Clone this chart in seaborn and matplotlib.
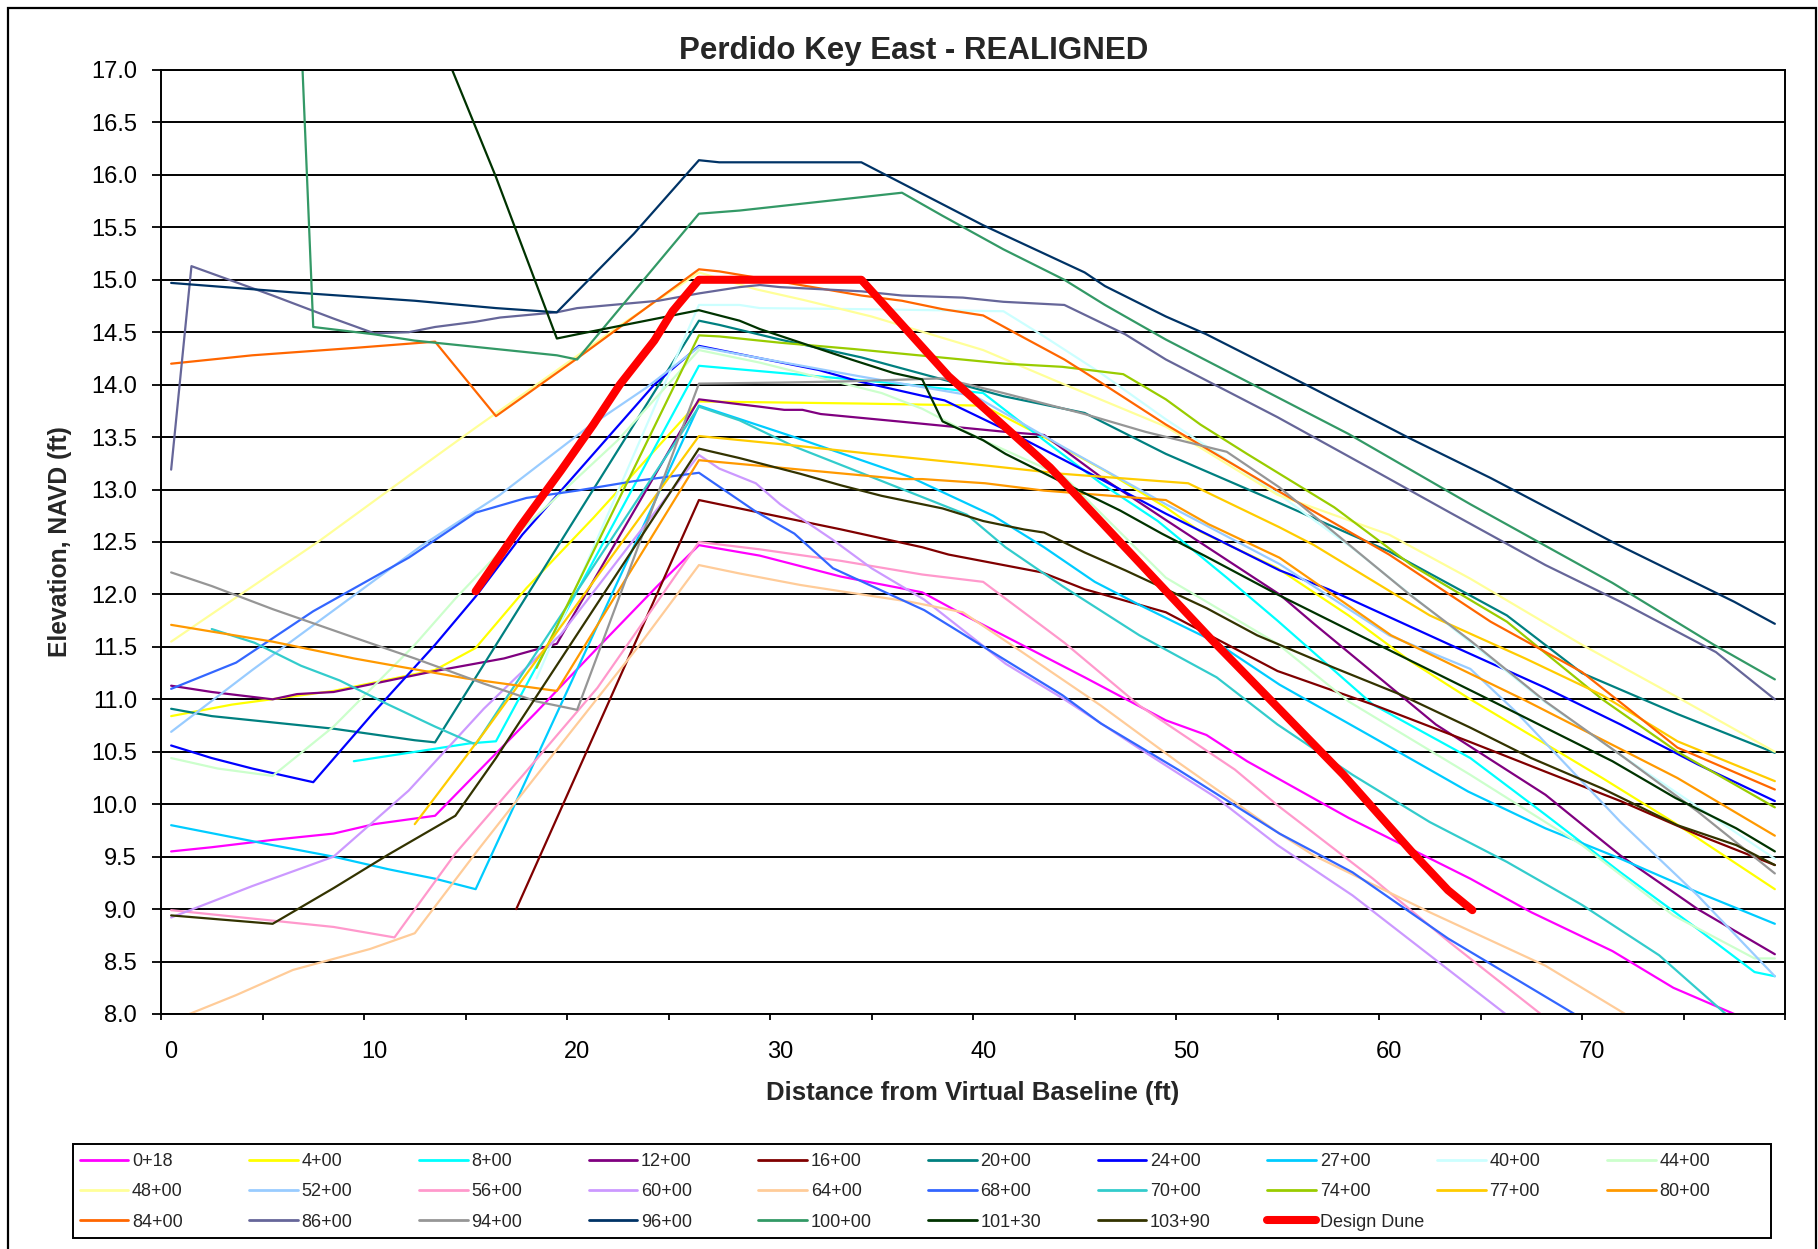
import matplotlib
matplotlib.use("Agg")
import matplotlib.pyplot as plt
from matplotlib.lines import Line2D
from matplotlib.patches import Rectangle
from matplotlib.ticker import MultipleLocator, FormatStrFormatter
import seaborn as sns
import pandas as pd

# ---------------- data ----------------
stations = ["0+18", "4+00", "8+00", "12+00", "16+00", "20+00", "24+00", "27+00",
            "40+00", "44+00", "48+00", "52+00", "56+00", "60+00", "64+00", "68+00",
            "70+00", "74+00", "77+00", "80+00", "84+00", "86+00", "94+00", "96+00",
            "100+00", "101+30", "103+90"]

colors = ["#FF00FF", "#FFFF00", "#00FFFF", "#800080", "#800000", "#008080", "#0000FF", "#00CCFF",
          "#CCFFFF", "#CCFFCC", "#FFFF99", "#99CCFF", "#FF99CC", "#CC99FF", "#FFCC99", "#3366FF",
          "#33CCCC", "#99CC00", "#FFCC00", "#FF9900", "#FF6600", "#666699", "#969696", "#003366",
          "#339966", "#003300", "#333300"]

x_0_18 = [0, 2, 5, 8, 10, 13, 18, 21, 24, 26, 29, 33, 37, 39, 45, 49, 51, 53, 58, 64, 67, 71, 74, 77, 78]
y_0_18 = [9.55, 9.59, 9.66, 9.72, 9.81, 9.89, 10.88, 11.49, 12.09, 12.47, 12.37, 12.17, 12.02, 11.81,
          11.21, 10.80, 10.66, 10.41, 9.87, 9.29, 8.97, 8.60, 8.25, 8.00, 7.97]

x_4_00 = [0, 3, 8, 13, 15, 17.5, 20.8, 23.8, 26, 34, 40, 43, 46, 49, 50.7, 54.5, 58, 61, 64, 68, 70.5, 74, 79]
y_4_00 = [10.84, 10.95, 11.08, 11.28, 11.49, 12.06, 12.73, 13.37, 13.84, 13.82, 13.80, 13.50, 13.18,
          12.83, 12.60, 12.25, 11.80, 11.37, 11.00, 10.54, 10.25, 9.83, 9.19]

x_8_00 = [9, 11.7, 14.7, 16, 26, 30.7, 35.8, 40, 43, 45.8, 48.6, 52, 54.5, 59.2, 64, 67.7, 71.4, 75.2, 78, 79]
y_8_00 = [10.41, 10.49, 10.58, 10.60, 14.18, 14.10, 14.01, 13.92, 13.47, 13.06, 12.70, 12.16, 11.75,
          10.95, 10.44, 9.90, 9.35, 8.81, 8.40, 8.36]

x_12_00 = [0, 2, 5, 6.2, 8, 13, 16.4, 19, 26, 29, 30.2, 31.1, 32, 35.8, 41.1, 43, 45.8, 49, 54.6, 56.3,
           62.3, 67.7, 71.4, 75.2, 79]
y_12_00 = [11.13, 11.07, 11.00, 11.05, 11.07, 11.27, 11.39, 11.53, 13.86, 13.79, 13.76, 13.76, 13.72,
           13.65, 13.55, 13.52, 13.12, 12.71, 12.00, 11.72, 10.76, 10.09, 9.51, 9.00, 8.57]

x_16_00 = [17, 26, 28, 30, 33, 37, 38.3, 42.9, 45, 49, 54.5, 59.2, 63.9, 67.7, 71.4, 75.2, 79]
y_16_00 = [9.00, 12.90, 12.82, 12.74, 12.62, 12.45, 12.38, 12.21, 12.05, 11.83, 11.27, 10.95, 10.60,
           10.31, 10.03, 9.71, 9.42]

x_20_00 = [0, 2, 5, 8, 12, 13, 26, 27, 30, 34, 38, 41, 45, 49, 54.5, 60, 65.8, 69.5, 74.2, 79]
y_20_00 = [10.91, 10.84, 10.78, 10.72, 10.61, 10.59, 14.61, 14.57, 14.43, 14.26, 14.05, 13.89, 13.73,
           13.34, 12.88, 12.41, 11.80, 11.25, 10.86, 10.49]

x_24_00 = [0, 2, 4, 7, 10, 13, 15, 17.3, 20.8, 23.8, 26, 28.8, 31.9, 33.9, 37.1, 38.1, 41.1, 45, 49,
           54.6, 57, 63, 67.7, 71.4, 75.2, 79]
y_24_00 = [10.56, 10.44, 10.34, 10.21, 10.88, 11.52, 11.98, 12.57, 13.34, 14.00, 14.37, 14.26, 14.14,
           14.03, 13.89, 13.85, 13.57, 13.18, 12.77, 12.23, 12.05, 11.52, 11.11, 10.76, 10.38, 10.03]

x_27_00 = [0, 5, 8, 10.7, 13, 15, 26, 30.7, 36.4, 40.5, 43, 45.5, 47.7, 51.5, 54.6, 59, 63.9, 67.7,
           71.4, 75.2, 79]
y_27_00 = [9.80, 9.61, 9.50, 9.38, 9.29, 9.19, 13.80, 13.50, 13.12, 12.75, 12.45, 12.12, 11.90, 11.54,
           11.14, 10.66, 10.12, 9.77, 9.48, 9.16, 8.86]

x_40_00 = [18, 26, 28, 29, 34, 41, 43, 45.8, 49, 54.6, 58.2, 67.7, 71.4, 79]
y_40_00 = [11.20, 14.76, 14.76, 14.73, 14.72, 14.70, 14.46, 14.11, 13.67, 12.95, 12.44, 10.97, 10.47, 9.48]

x_44_00 = [0, 2.3, 5, 8, 12, 14, 17, 22, 26, 29, 35, 37, 40, 44, 49, 54.5, 58, 64, 69.5, 74, 78, 79]
y_44_00 = [10.44, 10.34, 10.27, 10.74, 11.52, 11.96, 12.57, 13.47, 14.33, 14.21, 13.92, 13.77, 13.47,
           13.12, 12.16, 11.53, 10.98, 10.28, 9.61, 8.94, 8.53, 8.53]

x_48_00 = [0, 7.3, 10.7, 15, 18, 22, 26, 28.8, 31.1, 34.5, 40, 43.9, 49, 54.5, 60, 64, 69.5, 74.2, 79]
y_48_00 = [11.55, 12.51, 12.99, 13.59, 14.00, 14.55, 15.07, 14.91, 14.81, 14.65, 14.33, 14.01, 13.60,
           12.95, 12.57, 12.15, 11.52, 11.02, 10.50]

x_52_00 = [0, 4, 9, 12.3, 16.2, 20.5, 23.4, 26, 28.8, 33.9, 39.6, 44, 49, 54.6, 60, 64, 66.2, 71.4, 75.2, 79]
y_52_00 = [10.69, 11.28, 11.99, 12.46, 12.95, 13.59, 13.97, 14.36, 14.26, 14.08, 13.89, 13.40, 12.86,
           12.29, 11.61, 11.29, 10.89, 9.83, 9.13, 8.36]

x_56_00 = [0, 5, 8, 11, 14, 17.3, 21, 26, 29, 33, 37, 40, 44, 47.7, 52.4, 54.5, 59.2, 63, 67.6]
y_56_00 = [8.99, 8.89, 8.83, 8.73, 9.53, 10.27, 11.11, 12.50, 12.43, 12.32, 12.19, 12.12, 11.54, 10.94,
           10.33, 9.99, 9.29, 8.68, 7.98]

x_60_00 = [0, 4, 8, 11.7, 15.4, 19.2, 26, 27, 28.8, 30, 32.6, 34.5, 37.1, 39.8, 41.1, 44, 47.7, 51.5,
           54.5, 58.2, 62, 65.8]
y_60_00 = [8.92, 9.22, 9.50, 10.13, 10.91, 11.62, 13.33, 13.20, 13.06, 12.86, 12.52, 12.25, 11.95,
           11.54, 11.34, 11.00, 10.53, 10.06, 9.61, 9.13, 8.56, 7.99]

x_64_00 = [0, 3.2, 6, 9.8, 12, 15.1, 19.2, 23, 26, 28, 31, 33, 36.4, 39, 42, 45.8, 49.6, 54.6, 56.3,
           62, 67.7, 71.8]
y_64_00 = [7.93, 8.18, 8.42, 8.62, 8.77, 9.56, 10.57, 11.50, 12.28, 12.20, 12.09, 12.03, 11.93, 11.83,
           11.44, 10.94, 10.40, 9.72, 9.51, 8.97, 8.46, 7.98]

x_68_00 = [0, 3.2, 7, 11.7, 15, 17.5, 20, 22.8, 26, 28.8, 30.7, 32.6, 37.1, 40.2, 43.9, 45.8, 49.6,
           54.6, 58.2, 62.9, 69.3]
y_68_00 = [11.10, 11.35, 11.84, 12.35, 12.78, 12.92, 12.99, 13.08, 13.16, 12.79, 12.58, 12.25, 11.85,
           11.48, 11.04, 10.77, 10.33, 9.72, 9.35, 8.72, 7.98]

x_70_00 = [2, 4.1, 6.4, 8.3, 10.7, 13, 15, 26, 28, 30.7, 34.5, 39.2, 41.1, 43.9, 47.7, 51.5, 54.5,
           58.2, 62, 65.8, 69.5, 73.3, 76.7]
y_70_00 = [11.67, 11.54, 11.32, 11.18, 10.95, 10.74, 10.57, 13.79, 13.66, 13.41, 13.12, 12.76, 12.45,
           12.08, 11.61, 11.21, 10.76, 10.28, 9.83, 9.45, 9.04, 8.56, 7.98]

x_74_00 = [18, 26, 27, 30, 33.6, 41.1, 43.9, 46.9, 49, 50.7, 53, 57.3, 61.1, 65.8, 70.5, 74.2, 79]
y_74_00 = [11.30, 14.47, 14.46, 14.40, 14.34, 14.20, 14.17, 14.10, 13.86, 13.62, 13.34, 12.83, 12.28,
           11.74, 11.00, 10.50, 9.97]

x_77_00 = [12, 15.4, 26, 30.7, 34.5, 40.1, 43.9, 50.1, 54.6, 56.3, 62, 66.7, 70.5, 74.2, 79]
y_77_00 = [9.81, 10.68, 13.51, 13.42, 13.34, 13.23, 13.15, 13.06, 12.64, 12.47, 11.80, 11.39, 11.04,
           10.60, 10.22]

x_80_00 = [0, 5, 9, 14.5, 19, 26, 28.8, 36, 37, 40.1, 43, 49, 51.1, 54.6, 60.1, 66.7, 74.2, 79]
y_80_00 = [11.71, 11.55, 11.39, 11.20, 11.08, 13.28, 13.23, 13.10, 13.10, 13.06, 12.99, 12.90, 12.67,
           12.35, 11.61, 10.99, 10.25, 9.70]

x_84_00 = [0, 4, 9, 13, 16, 20, 26, 27, 30.7, 34, 36, 38, 40, 41.7, 44, 45.8, 49, 54.5, 60, 65, 69.5,
           71.4, 74.2, 79]
y_84_00 = [14.20, 14.28, 14.35, 14.41, 13.70, 14.25, 15.10, 15.08, 14.96, 14.85, 14.80, 14.72, 14.66,
           14.48, 14.24, 14.02, 13.62, 12.99, 12.38, 11.74, 11.26, 10.97, 10.54, 10.14]

x_86_00 = [0, 1, 5, 8, 10, 11.7, 13, 15, 16.2, 19, 20, 24, 26, 28, 29, 30, 34, 36, 39, 41, 44, 47,
           49, 54.5, 59, 63, 67.7, 71.4, 76.1, 79]
y_86_00 = [13.19, 15.13, 14.85, 14.63, 14.49, 14.50, 14.55, 14.60, 14.64, 14.69, 14.73, 14.80, 14.87,
           14.93, 14.95, 14.93, 14.89, 14.85, 14.83, 14.79, 14.76, 14.48, 14.24, 13.69, 13.21, 12.78,
           12.28, 11.93, 11.45, 11.00]

x_94_00 = [0, 2, 5, 9, 12, 15.4, 18, 20, 26, 30, 33, 38, 41, 43, 45, 48, 52, 54.6, 61, 64, 67.7,
           71.4, 75.2, 79]
y_94_00 = [12.21, 12.08, 11.86, 11.59, 11.39, 11.15, 10.98, 10.90, 14.01, 14.02, 14.03, 14.06, 13.92,
           13.82, 13.72, 13.55, 13.36, 13.02, 12.00, 11.56, 10.98, 10.47, 9.93, 9.34]

x_96_00 = [0, 2, 6, 9, 12, 16, 19, 22.8, 26, 27, 34, 37, 40, 45, 46, 49, 51, 56, 61, 65, 71, 77, 79]
y_96_00 = [14.97, 14.94, 14.88, 14.84, 14.80, 14.73, 14.69, 15.44, 16.14, 16.12, 16.12, 15.82, 15.52,
           15.07, 14.94, 14.65, 14.48, 13.99, 13.49, 13.11, 12.50, 11.93, 11.72]

x_100_00 = [6, 7, 10, 12, 15, 19, 20, 26, 28, 36, 38, 41, 44, 46, 49, 53.5, 58, 64, 71, 76, 79]
y_100_00 = [19.20, 14.55, 14.48, 14.42, 14.36, 14.28, 14.24, 15.63, 15.66, 15.83, 15.61, 15.29, 15.00,
            14.76, 14.43, 13.98, 13.53, 12.86, 12.11, 11.52, 11.19]

x_101_30 = [13, 16, 19, 20, 26, 28, 29, 33.5, 35.6, 37, 38, 40, 41.1, 44, 46.75, 48.8, 50.9, 54.5,
            60.1, 64.8, 68, 71, 74.1, 77.1, 79]
y_101_30 = [17.40, 15.98, 14.44, 14.48, 14.71, 14.61, 14.53, 14.24, 14.11, 14.05, 13.65, 13.47, 13.34,
            13.06, 12.80, 12.58, 12.37, 12.00, 11.46, 11.01, 10.70, 10.41, 10.06, 9.77, 9.55]

x_103_90 = [0, 5, 8, 10.7, 14, 16, 26, 28, 29, 31, 33, 35, 38, 40, 42, 43, 45, 47, 51, 53.5, 57.3,
            60.5, 64, 67, 70.5, 74.2, 77.1, 79]
y_103_90 = [8.94, 8.86, 9.20, 9.52, 9.89, 10.44, 13.39, 13.30, 13.25, 13.15, 13.04, 12.94, 12.82,
            12.70, 12.62, 12.59, 12.40, 12.23, 11.87, 11.61, 11.30, 11.05, 10.73, 10.44, 10.15, 9.80,
            9.61, 9.42]

x_dune = [15, 17.2, 19.2, 20.8, 22.1, 23.8, 24.7, 26, 34, 38.3, 43.3, 51.2, 57.75, 61.1, 62.9, 64.1]
y_dune = [12.03, 12.65, 13.18, 13.62, 14.00, 14.42, 14.70, 15.00, 15.00, 14.08, 13.21, 11.58, 10.28,
          9.55, 9.18, 8.99]

series_x = [x_0_18, x_4_00, x_8_00, x_12_00, x_16_00, x_20_00, x_24_00, x_27_00, x_40_00, x_44_00,
            x_48_00, x_52_00, x_56_00, x_60_00, x_64_00, x_68_00, x_70_00, x_74_00, x_77_00, x_80_00,
            x_84_00, x_86_00, x_94_00, x_96_00, x_100_00, x_101_30, x_103_90]
series_y = [y_0_18, y_4_00, y_8_00, y_12_00, y_16_00, y_20_00, y_24_00, y_27_00, y_40_00, y_44_00,
            y_48_00, y_52_00, y_56_00, y_60_00, y_64_00, y_68_00, y_70_00, y_74_00, y_77_00, y_80_00,
            y_84_00, y_86_00, y_94_00, y_96_00, y_100_00, y_101_30, y_103_90]

# ---------------- build long table ----------------
rows = []
for name, xs, ys in zip(stations, series_x, series_y):
    for i, (xv, yv) in enumerate(zip(xs, ys)):
        rows.append({"station": name, "order": i, "x": xv, "y": yv})
df = pd.DataFrame(rows)
df_dune = pd.DataFrame({"x": x_dune, "y": y_dune})

# ---------------- style ----------------
sns.set_theme(style="white")
plt.rcParams["font.family"] = ["Liberation Sans", "DejaVu Sans"]

W, H = 1818, 1249
fig = plt.figure(figsize=(W / 100, H / 100), dpi=100)
fig.patch.set_facecolor("white")

ax_left, ax_right, ax_top, ax_bot = 161, 1785, 70, 1014
ax = fig.add_axes([ax_left / W, 1 - ax_bot / H, (ax_right - ax_left) / W, (ax_bot - ax_top) / H])
ax.set_facecolor("white")

palette = dict(zip(stations, colors))
sns.lineplot(data=df, x="x", y="y", hue="station", hue_order=stations, palette=palette,
             units="station", estimator=None, sort=False, linewidth=1.6, legend=False, ax=ax)
sns.lineplot(data=df_dune, x="x", y="y", color="#FF0000", linewidth=5.8, sort=False,
             estimator=None, legend=False, ax=ax, solid_capstyle="round")

ax.set_xlim(-0.5, 79.5)
ax.set_ylim(8.0, 17.0)

# y axis
ax.yaxis.set_major_locator(MultipleLocator(0.5))
ax.yaxis.set_major_formatter(FormatStrFormatter("%.1f"))
ax.grid(axis="y", color="black", linewidth=1.4)
ax.grid(axis="x", visible=False)
ax.set_axisbelow(True)
ax.tick_params(axis="y", which="major", direction="out", length=6.7, width=1.3, color="black",
               labelsize=17, pad=10.5, left=True, labelcolor="black")

# x axis: labels every 10 (no mark), marks every 5 between categories
ax.xaxis.set_major_locator(MultipleLocator(10))
ax.xaxis.set_major_formatter(FormatStrFormatter("%d"))
ax.set_xticks([v - 0.5 for v in range(0, 81, 5)], minor=True)
ax.tick_params(axis="x", which="major", length=0, labelsize=17, pad=19.5, labelcolor="black")
ax.tick_params(axis="x", which="minor", direction="out", length=4.5, width=1.3, color="black",
               bottom=True)

for s in ["left", "right", "top", "bottom"]:
    ax.spines[s].set_visible(True)
    ax.spines[s].set_color("black")
    ax.spines[s].set_linewidth(1.4)

ax.set_xlabel("Distance from Virtual Baseline (ft)", fontsize=18.5, fontweight="bold", va="center")
ax.xaxis.set_label_coords(0.5, (ax_bot - 1093) / (ax_bot - ax_top))
ax.set_ylabel("Elevation, NAVD (ft)", fontsize=17.7, fontweight="bold", va="center")
ax.yaxis.set_label_coords((60 - ax_left) / (ax_right - ax_left), 0.5)

fig.text(914 / W, 1 - 51.5 / H, "Perdido Key East - REALIGNED", ha="center", va="center",
         fontsize=22.5, fontweight="bold")

# ---------------- legend (Excel-like uniform grid, row-major order) ----------------
handles = [Line2D([], [], color=c, linewidth=2.0) for c in colors]
handles.append(Line2D([], [], color="#FF0000", linewidth=5.8, solid_capstyle="round"))
labels = stations + ["Design Dune"]

col_x0, col_dx = 79.5, 169.7
for c in range(10):
    idx = [i for i in (c, c + 10, c + 20) if i < len(labels)]
    fig.legend([handles[i] for i in idx], [labels[i] for i in idx],
               loc="upper left", bbox_to_anchor=((col_x0 + c * col_dx) / W, 1 - 1153 / H),
               bbox_transform=fig.transFigure, frameon=False, fontsize=13,
               handlelength=2.7, handletextpad=0.2, labelspacing=0.74,
               borderpad=0, borderaxespad=0)

fig.patches.append(Rectangle((73 / W, 1 - 1238 / H), (1771 - 73) / W, (1238 - 1144) / H,
                             transform=fig.transFigure, fill=False, edgecolor="black",
                             linewidth=1.4, figure=fig))
# outer chart border (left, top, right)
fig.patches.append(Rectangle((8 / W, -0.02), (1816 - 8) / W, (H - 8) / H + 0.02,
                             transform=fig.transFigure, fill=False, edgecolor="black",
                             linewidth=1.6, figure=fig))

fig.savefig("out.png", dpi=100, facecolor="white")
